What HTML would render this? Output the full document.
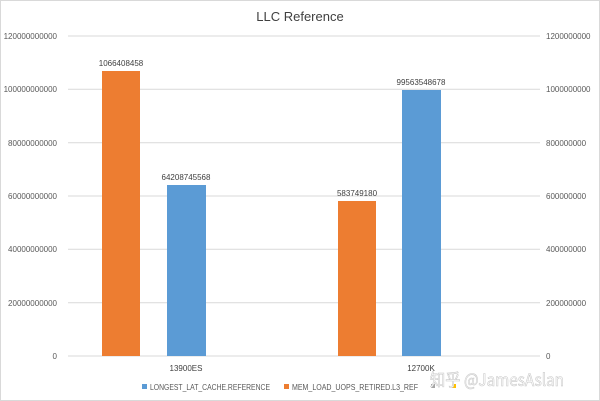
<html><body style="margin:0;background:#fff">
<svg width="600" height="401" xmlns="http://www.w3.org/2000/svg" font-family="Liberation Sans, sans-serif">
<rect x="0.5" y="0.5" width="599" height="400" fill="#fff" stroke="#d9d9d9"/>
<text x="300" y="21" font-size="13" text-anchor="middle" fill="#404040">LLC Reference</text>
<g stroke="#d9d9d9" stroke-width="1">
<line x1="68" x2="540" y1="36" y2="36"/><line x1="68" x2="540" y1="89.3" y2="89.3"/>
<line x1="68" x2="540" y1="142.7" y2="142.7"/><line x1="68" x2="540" y1="196" y2="196"/>
<line x1="68" x2="540" y1="249.3" y2="249.3"/><line x1="68" x2="540" y1="302.7" y2="302.7"/>
<line x1="68" x2="540" y1="356" y2="356"/></g>
<g font-size="8" fill="#595959" text-anchor="end">
<text x="57" y="39">120000000000</text><text x="57" y="92">100000000000</text>
<text x="57" y="146">80000000000</text><text x="57" y="199">60000000000</text>
<text x="57" y="252">40000000000</text><text x="57" y="306">20000000000</text><text x="57" y="359">0</text></g>
<g font-size="8" fill="#595959" text-anchor="start">
<text x="546" y="39">1200000000</text><text x="546" y="92">1000000000</text>
<text x="546" y="146">800000000</text><text x="546" y="199">600000000</text>
<text x="546" y="252">400000000</text><text x="546" y="306">200000000</text><text x="546" y="359">0</text></g>
<rect x="102" y="71" width="38" height="285" fill="#ed7d31"/>
<rect x="167" y="185" width="39" height="171" fill="#5b9bd5"/>
<rect x="338" y="201" width="38" height="155" fill="#ed7d31"/>
<rect x="402" y="90" width="39" height="266" fill="#5b9bd5"/>
<g font-size="8" fill="#404040" text-anchor="middle">
<text x="121" y="66">1066408458</text><text x="186" y="180">64208745568</text>
<text x="357" y="196">583749180</text><text x="421" y="85">99563548678</text>
<text x="186" y="371">13900ES</text><text x="421" y="371">12700K</text></g>
<rect x="142" y="384" width="5" height="5" fill="#5b9bd5"/>
<text x="150" y="390" font-size="8" fill="#595959" textLength="120" lengthAdjust="spacingAndGlyphs">LONGEST_LAT_CACHE.REFERENCE</text>
<rect x="284" y="384" width="5" height="5" fill="#ed7d31"/>
<text x="292" y="390" font-size="8" fill="#595959" textLength="126" lengthAdjust="spacingAndGlyphs">MEM_LOAD_UOPS_RETIRED.L3_REF</text>
<rect x="431" y="384" width="4" height="4" fill="#a5a5a5"/>
<rect x="452" y="384" width="4" height="4" fill="#ffc000"/>
<text x="375" y="386" font-size="17" fill="#fff" stroke="#c8c8c8" stroke-width="0.6" font-family="Noto Sans CJK SC, sans-serif" textLength="134" lengthAdjust="spacingAndGlyphs" transform="translate(55,0)">知乎 @JamesAslan</text>
</svg></body></html>
